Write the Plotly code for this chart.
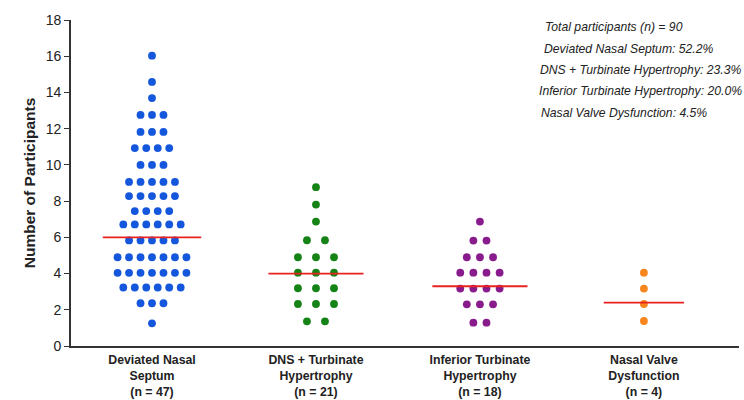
import plotly.graph_objects as go

# ---- data ----
categories = ["Deviated Nasal<br>Septum<br>(n = 47)",
              "DNS + Turbinate<br>Hypertrophy<br>(n = 21)",
              "Inferior Turbinate<br>Hypertrophy<br>(n = 18)",
              "Nasal Valve<br>Dysfunction<br>(n = 4)"]

dns_values = ([16.03, 14.58, 13.69] + [12.76] * 3 + [11.82] * 3 + [10.93] * 4 +
              [10.0] * 3 + [9.06] * 5 + [8.28] * 5 + [7.45] * 4 + [6.71] * 6 +
              [5.83] * 5 + [4.90] * 7 + [4.04] * 7 + [3.23] * 6 + [2.36] * 3 + [1.25])
dns_turb_values = ([8.77, 7.81, 6.87] + [5.84] * 2 + [4.90] * 3 + [4.05] * 3 +
                   [3.19] * 3 + [2.32] * 3 + [1.36] * 2)
inf_turb_values = ([6.87] + [5.82] * 2 + [4.90] * 3 + [4.05] * 4 + [3.17] * 4 +
                   [2.30] * 3 + [1.29] * 2)
nasal_valve_values = [4.05, 3.17, 2.32, 1.38]

group_means = [6.0, 4.0, 3.3, 2.4]

summary_lines = ["Total participants (n) = 90",
                 "Deviated Nasal Septum: 52.2%",
                 "DNS + Turbinate Hypertrophy: 23.3%",
                 "Inferior Turbinate Hypertrophy: 20.0%",
                 "Nasal Valve Dysfunction: 4.5%"]

# ---- styling ----
colors = ["#1456dc", "#168316", "#891c8c", "#f8861c"]
dot_spacing = [0.070, 0.110, 0.080, 0.070]   # horizontal swarm spacing (category units)
mean_half_width = [0.30, 0.29, 0.29, 0.245]
FONT = "Arial, Liberation Sans, sans-serif"

groups = [dns_values, dns_turb_values, inf_turb_values, nasal_valve_values]

fig = go.Figure()

for gi, vals in enumerate(groups):
    xs, ys = [], []
    counts = {}
    for v in vals:
        counts[v] = counts.get(v, 0) + 1
    seen = {}
    for v in vals:
        k = counts[v]
        i = seen.get(v, 0)
        seen[v] = i + 1
        xs.append(gi + (i - (k - 1) / 2) * dot_spacing[gi])
        ys.append(v)
    fig.add_trace(go.Scatter(x=xs, y=ys, mode="markers",
                             marker=dict(size=7.8, color=colors[gi]),
                             showlegend=False, hoverinfo="y"))

for gi, m in enumerate(group_means):
    fig.add_trace(go.Scatter(x=[gi - mean_half_width[gi], gi + mean_half_width[gi]],
                             y=[m, m], mode="lines",
                             line=dict(color="#e8231f", width=1.8),
                             showlegend=False, hoverinfo="skip"))

# summary annotations (top right)
ann_y_px = [27, 48.5, 69.5, 91, 112.5]
ann_x_px = [543, 542, 538, 537, 539]
L, R, T, B = 71, 5, 20, 54
W, H = 744, 400
pw, ph = W - L - R, H - T - B
for txt, xp, yp in zip(summary_lines, ann_x_px, ann_y_px):
    fig.add_annotation(x=(xp - L) / pw, y=(H - B - yp) / ph, xref="paper", yref="paper",
                       text="<i>" + txt + "</i>", showarrow=False,
                       xanchor="left", yanchor="middle",
                       font=dict(family=FONT, size=12.2, color="#222222"))

fig.update_layout(
    width=W, height=H,
    margin=dict(l=L, r=R, t=T, b=B, autoexpand=False),
    paper_bgcolor="white", plot_bgcolor="white",
    font=dict(family=FONT, color="#222222"),
    xaxis=dict(range=[-0.494, 3.58], tickvals=[0, 1, 2, 3], ticktext=categories,
               showgrid=False, zeroline=False, showline=True, linecolor="#333333",
               linewidth=1.6, ticks="", tickangle=0, ticklabelstandoff=1,
               tickfont=dict(family=FONT, size=12.3, color="#222222", weight="bold")),
    yaxis=dict(range=[0, 18], dtick=2, showgrid=False, zeroline=False,
               showline=True, linecolor="#333333", linewidth=1.6,
               ticks="outside", ticklen=5, tickcolor="#333333", tickwidth=1.4,
               tickfont=dict(family=FONT, size=14, color="#222222"),
               title=dict(text="<b>Number of Participants</b>", standoff=6,
                          font=dict(family=FONT, size=15.5, color="#222222"))),
)

fig.write_html("out.html")
